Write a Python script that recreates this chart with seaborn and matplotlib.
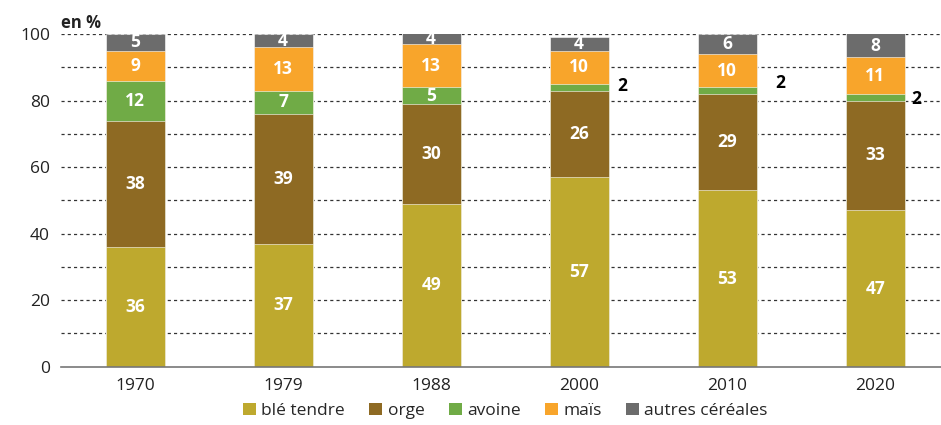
import numpy as np
import pandas as pd
import matplotlib
matplotlib.use("Agg")
import matplotlib.pyplot as plt
import seaborn as sns
from matplotlib.patches import Patch

years = ["1970", "1979", "1988", "2000", "2010", "2020"]
series_names = ["blé tendre", "orge", "avoine", "maïs", "autres céréales"]
ble_tendre = [36, 37, 49, 57, 53, 47]
orge = [38, 39, 30, 26, 29, 33]
avoine = [12, 7, 5, 2, 2, 2]
mais = [9, 13, 13, 10, 10, 11]
autres = [5, 4, 4, 4, 6, 8]
colors = ["#BEA92E", "#8E6A23", "#70AB46", "#F8A52B", "#6C6C6C"]

sns.set_theme(style="white")
plt.rcParams["font.family"] = ["Open Sans", "DejaVu Sans"]

values = [ble_tendre, orge, avoine, mais, autres]
df = pd.DataFrame({name: v for name, v in zip(series_names, values)})
df["annee"] = years
cum = df[series_names].cumsum(axis=1)

fig = plt.figure(figsize=(9.41, 4.25), dpi=100)
ax = fig.add_axes([0.065, 0.137, 0.9437, 0.783])

# grid behind bars
for yv in range(10, 101, 10):
    ax.axhline(yv, color="#333333", lw=0.9, ls=(0, (2.5, 2.5)), zorder=0)

for i in reversed(range(len(series_names))):
    sns.barplot(x=df["annee"], y=cum[series_names[i]], color=colors[i], width=0.4,
                saturation=1, ax=ax, edgecolor="white", linewidth=0.4, zorder=2)

ax.set_ylim(0, 100)
ax.set_xlim(-0.5, 5.5)
ax.set_xlabel("")
ax.set_ylabel("")
ax.set_yticks(range(0, 101, 20))
ax.tick_params(axis="y", length=0, labelsize=12.5, colors="#222222", pad=8)
ax.tick_params(axis="x", length=0, labelsize=12.5, colors="#222222", pad=8)
ax.set_xticks(np.arange(-0.5, 6, 1), minor=True)
ax.tick_params(axis="x", which="minor", length=4, width=1, color="#555555", direction="out")
for s in ["top", "right", "left"]:
    ax.spines[s].set_visible(False)
ax.spines["bottom"].set_color("#777777")
ax.spines["bottom"].set_linewidth(1.2)

# segment labels
side_pos = {3: (0.29, 84.4), 4: (0.36, 85.3), 5: (0.28, 80.5)}
for j in range(len(years)):
    bottom = 0
    for i, name in enumerate(series_names):
        v = values[i][j]
        if v >= 3:
            top = min(bottom + v, 100)
            ax.text(j, (bottom + top) / 2, str(v), ha="center", va="center", color="white",
                    fontsize=12.5, fontweight="bold", zorder=5)
        else:
            dx, yy = side_pos[j]
            ax.text(j + dx, yy, str(v), ha="center", va="center", color="black",
                    fontsize=12.5, fontweight="bold", zorder=5)
        bottom += v

fig.text(0.065, 0.945, "en %", fontsize=12, fontweight="bold", color="#222222",
         ha="left", va="center")

handles = [Patch(facecolor=c, edgecolor="none") for c in colors]
fig.legend(handles, series_names, loc="center", bbox_to_anchor=(0.537, 0.033), ncol=5,
           frameon=False, fontsize=12.5, handlelength=0.75, handleheight=0.75,
           handletextpad=0.3, columnspacing=1.4, borderaxespad=0)

fig.savefig("out.png", dpi=100)
